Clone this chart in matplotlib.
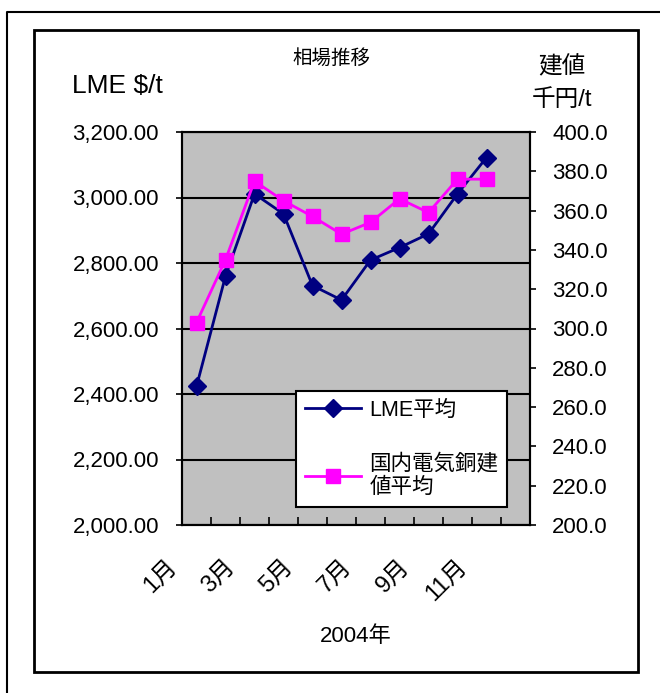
import numpy as np
import matplotlib
matplotlib.use("Agg")
import matplotlib.pyplot as plt
from matplotlib.patches import Rectangle
from matplotlib.lines import Line2D
from matplotlib.ticker import FuncFormatter, MultipleLocator
import matplotlib.transforms as mtransforms

plt.rcParams['font.family'] = ['Liberation Sans', 'Noto Sans CJK JP', 'DejaVu Sans']

# data (2004, monthly averages; December not yet available)
months = ['1月', '2月', '3月', '4月', '5月', '6月', '7月', '8月', '9月', '10月', '11月', '12月']
lme_avg = [2423, 2760, 3011, 2950, 2731, 2687, 2809, 2847, 2889, 3011, 3122]
domestic_avg = [303, 335, 375, 365, 357, 348, 354, 366, 359, 376, 376]

W, H = 660, 693
fig = plt.figure(figsize=(W / 100, H / 100), dpi=100)


def fx(px):
    return px / W


def fy(py):
    return 1 - py / H


ax = fig.add_axes([fx(182), fy(525), fx(530) - fx(182), fy(132) - fy(525)])
ax2 = ax.twinx()

x = np.arange(len(months))
ax.set_facecolor('#C0C0C0')
ax.set_xlim(-0.5, len(months) - 0.5)
ax.set_ylim(2000, 3200)
ax2.set_ylim(200, 400)

ax.yaxis.set_major_locator(MultipleLocator(200))
ax.yaxis.set_major_formatter(FuncFormatter(lambda v, p: f'{v:,.2f}'))
ax2.yaxis.set_major_locator(MultipleLocator(20))
ax2.yaxis.set_major_formatter(FuncFormatter(lambda v, p: f'{v:.1f}'))
ax.grid(axis='y', color='black', lw=1.5)
ax.set_axisbelow(True)

l1, = ax.plot(x[:len(lme_avg)], lme_avg, color='#000080', lw=2, marker='D',
              ms=9, label='LME平均', zorder=3)
l2, = ax2.plot(x[:len(domestic_avg)], domestic_avg, color='#FF00FF', lw=2, marker='s',
               ms=10, label='国内電気銅建\n値平均', zorder=3)

# x ticks at category boundaries, labels every other month
ax.set_xticks(np.arange(len(months) + 1) - 0.5)
ax.set_xticklabels([])
ax.tick_params(axis='x', direction='in', length=6, width=1.2)
ax.set_xticks(x[::2], minor=True)
ax.set_xticklabels(months[::2], minor=True, rotation=45, ha='right', va='top', fontsize=17)
ax.tick_params(axis='x', which='minor', length=0, pad=22)
off = mtransforms.ScaledTranslation(-15 / 100, 0, fig.dpi_scale_trans)
for lab in ax.get_xticklabels(minor=True):
    lab.set_transform(lab.get_transform() + off)

ax.tick_params(axis='y', direction='out', length=4, width=1.2, labelsize=16, pad=12.5)
ax2.tick_params(axis='y', direction='out', length=4, width=1.2, labelsize=16, pad=12)
for a in (ax, ax2):
    for s in a.spines.values():
        s.set_linewidth(1.5)

ax.set_xlabel('2004年', fontsize=16)
ax.xaxis.set_label_coords(0.5, (525 - 637) / 393)
ax.xaxis.label.set_va('center')

fig.text(fx(331), fy(58), '相場推移', ha='center', va='center', fontsize=14)
fig.text(fx(117), fy(86), 'LME $/t', ha='center', va='center', fontsize=19)
fig.text(fx(562), fy(67), '建値', ha='center', va='center', fontsize=17)
fig.text(fx(562), fy(100), '千円/t', ha='center', va='center', fontsize=17)

leg = ax2.legend(handles=[l1, l2], loc='lower left',
                 bbox_to_anchor=(fx(296), fy(507)), bbox_transform=fig.transFigure,
                 borderaxespad=0, fontsize=15.5, frameon=True, fancybox=False,
                 edgecolor='black', framealpha=1, handlelength=2.6, labelspacing=1.5,
                 borderpad=0.4, handletextpad=0.4)
leg.get_frame().set_linewidth(1.5)

# chart borders
fig.add_artist(Line2D([fx(7), fx(7), fx(660)], [fy(693), fy(12), fy(12)],
                      color='black', lw=1.5))
fig.add_artist(Rectangle((fx(34), fy(672)), fx(638) - fx(34), fy(30) - fy(672),
                         fill=False, edgecolor='black', lw=2))

fig.savefig('out.png', dpi=100)
